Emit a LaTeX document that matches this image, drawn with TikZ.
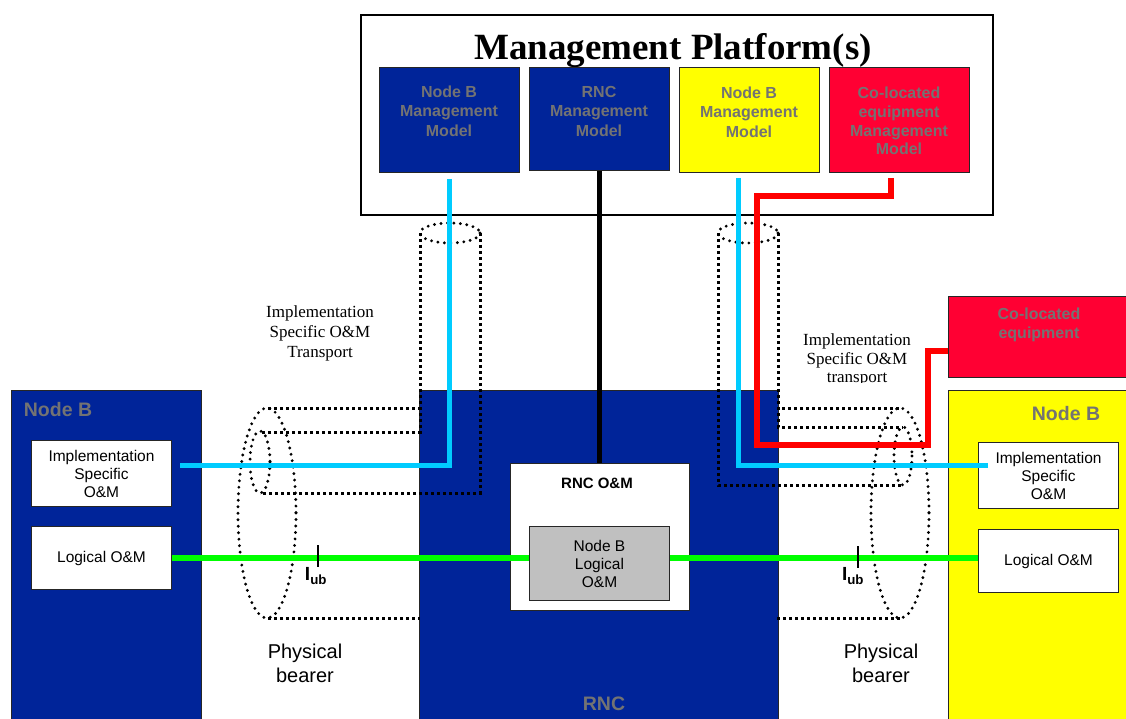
\documentclass[tikz,border=0pt]{standalone}
\usepackage{fontspec}
\setmainfont{Liberation Sans}
\newfontfamily\tmsfont{Liberation Serif}
\definecolor{nbblue}{RGB}{0,36,153}
\definecolor{nbyellow}{RGB}{255,255,0}
\definecolor{cored}{RGB}{255,0,51}
\definecolor{skyc}{RGB}{0,204,255}
\definecolor{iubgreen}{RGB}{0,255,0}
\definecolor{mgrey}{RGB}{115,115,115}
\definecolor{lgrey}{RGB}{192,192,192}
\tikzset{
	blk/.style={draw=black!85, line width=1pt, anchor=north west, inner sep=0pt},
	omtxt/.style={font=\fontsize{15.5}{18}\selectfont, align=center},
	mgmt/.style={font=\bfseries\fontsize{16}{19.5}\selectfont, text=mgrey, align=center},
	ttl/.style={font=\bfseries\fontsize{19.5}{22}\selectfont, text=mgrey},
	trnsp/.style={font=\tmsfont\fontsize{17}{20}\selectfont, align=center},
	bearer/.style={font=\fontsize{20}{24}\selectfont, align=center},
	iub/.style={font=\bfseries\fontsize{19}{20}\selectfont, inner sep=0pt},
	cable/.style={line width=5pt},
	tube/.style={line width=3pt, dash pattern=on 3pt off 3pt},
	ring/.style={line width=3.2pt, line cap=round, dash pattern=on 0pt off 6.5pt},
}
\begin{document}
\begin{tikzpicture}[x=1pt,y=-1pt]
	\useasboundingbox (0,0) rectangle (1126,719);
	% management platform
	\node[blk, draw=black, line width=2pt, minimum width=632pt, minimum height=200pt] (mp) at (360,14) {};
	\node[font=\tmsfont\bfseries\fontsize{37}{40}\selectfont, anchor=base] (mpT) at (673,60) {Management Platform(s)};
	\node[blk, fill=nbblue, minimum width=140pt, minimum height=105pt] (mmNBL) at (379,67) {};
	\node[blk, fill=nbblue, minimum width=140pt, minimum height=103pt] (mmRNC) at (529,67) {};
	\node[blk, fill=nbyellow, minimum width=140pt, minimum height=105pt] (mmNBR) at (679,67) {};
	\node[blk, fill=cored, minimum width=140pt, minimum height=105pt] (mmCO) at (829,67) {};
	\node[mgmt] (mmNBLt) at (449,111) {Node B\\Management\\Model};
	\node[mgmt] (mmRNCt) at (599,111) {RNC\\Management\\Model};
	\node[mgmt] (mmNBRt) at (749,112) {Node B\\Management\\Model};
	\node[mgmt, font=\bfseries\fontsize{16}{18.7}\selectfont] (mmCOt) at (899,121) {Co-located\\equipment\\Management\\Model};
	% network elements
	\node[blk, fill=nbblue, minimum width=190pt, minimum height=340pt] (nbL) at (11,390) {};
	\node[blk, fill=nbblue, minimum width=359pt, minimum height=340pt] (rnc) at (419,390) {};
	\node[blk, fill=nbyellow, minimum width=200pt, minimum height=340pt] (nbR) at (948,390) {};
	\node[blk, fill=cored, minimum width=200pt, minimum height=81pt] (colo) at (948,296) {};
	\node[ttl] (nbLT) at (58,410) {Node B};
	\node[ttl] (nbRT) at (1066,414) {Node B};
	\node[ttl] (rncT) at (604,704) {RNC};
	\node[mgmt, font=\bfseries\fontsize{16}{19}\selectfont] (coloT) at (1039,325) {Co-located\\equipment};
	\node[blk, fill=white, minimum width=140pt, minimum height=66pt, omtxt] (isoL) at (31,440) {Implementation\\Specific\\O\&M};
	\node[blk, fill=white, minimum width=140pt, minimum height=63pt, omtxt] (lomL) at (31,526) {Logical O\&M};
	\node[blk, fill=white, minimum width=140pt, minimum height=66pt, omtxt] (isoR) at (978,442) {Implementation\\Specific\\O\&M};
	\node[blk, fill=white, minimum width=140pt, minimum height=63pt, omtxt] (lomR) at (978,529) {Logical O\&M};
	\node[blk, fill=white, minimum width=179pt, minimum height=147pt] (rncom) at (510,463) {};
	\node[font=\bfseries\fontsize{15}{18}\selectfont] (rncomT) at (597,483) {RNC O\&M};
	\node[blk, fill=lgrey, minimum width=140pt, minimum height=74pt, omtxt] (nblo) at (529,526) {Node B\\Logical\\O\&M};
	% labels
	\node[trnsp] (trL) at (320,333) {Implementation\\Specific O\&M\\Transport};
	\begin{scope}
		\clip (760,320) rectangle (945,382);
		\node[trnsp, font=\tmsfont\fontsize{17}{18.5}\selectfont] (trR) at (857,360) {Implementation\\Specific O\&M\\transport};
	\end{scope}
	\node[bearer] (pbL) at (305,663) {Physical\\bearer};
	\node[bearer] (pbR) at (881,663) {Physical\\bearer};
	% left tube
	\draw[tube] (268,408) -- (420,408) (268,618) -- (420,618);
	\draw[tube] (420,233) -- (420,432) -- (260,432) (480,233) -- (480,493) -- (260,493);
	\draw[ring] (267,513) ellipse [x radius=29, y radius=105]
	(260,462) ellipse [x radius=10, y radius=31]
	(450,233) ellipse [x radius=30, y radius=10];
	% right tube
	\draw[tube] (782,408) -- (900,408) (777,618) -- (900,618);
	\draw[tube] (778,233) -- (778,427) -- (903,427) (718,233) -- (718,485) -- (903,485);
	\draw[ring] (900,513) ellipse [x radius=29, y radius=105]
	(903,456) ellipse [x radius=9, y radius=29]
	(748,233) ellipse [x radius=30, y radius=10];
	% cables
	\coordinate (cyL) at (180,465);
	\coordinate (cyRtop) at (738,178);
	\coordinate (cyR) at (988,465);
	\coordinate (rdTop) at (891,178);
	\coordinate (rdA) at (757,196);
	\coordinate (rdB) at (928,445);
	\coordinate (rdC) at ([yshift=-13.5pt]colo.west);
	\draw[cable, skyc] ([yshift=-6pt]mmNBL.south) |- (cyL);
	\draw[cable, skyc] (cyRtop) |- (cyR);
	\draw[cable, red, line width=6pt] (rdTop) |- (rdA) |- (rdB) |- (rdC);
	\draw[cable, black] (mmRNC.south) -- (mmRNC.south |- rncom.north);
	\draw[cable, iubgreen, line width=6pt] (lomL.east) -- (lomL.east -| nblo.west);
	\draw[cable, iubgreen, line width=6pt] (nblo.east |- lomL.east) -- (lomR.west |- lomL.east);
	% Iub
	\draw[line width=2pt] (318,545) -- (318,567) (858,546) -- (858,568);
	\node[iub] (iubL) at (316,576) {I\textsubscript{ub}};
	\node[iub] (iubR) at (853,576) {I\textsubscript{ub}};
\end{tikzpicture}
\end{document}
